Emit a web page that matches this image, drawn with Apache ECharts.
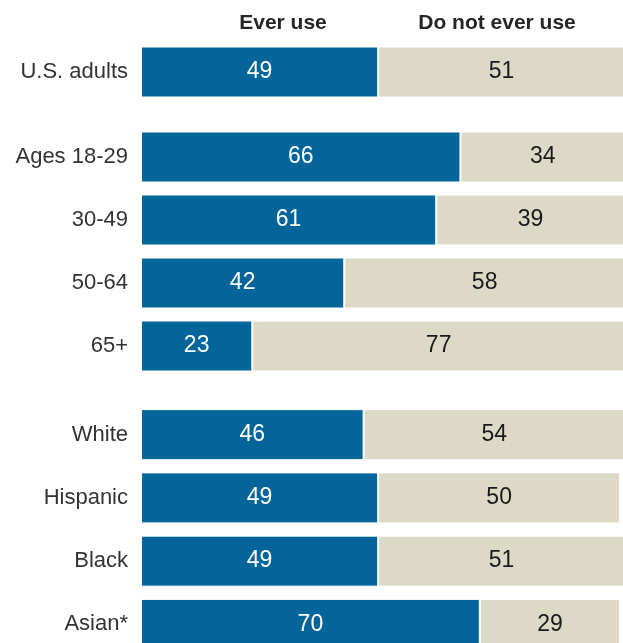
<!DOCTYPE html>
<html>
<head>
<meta charset="utf-8">
<script src="https://cdn.jsdelivr.net/npm/echarts@6/dist/echarts.min.js"></script>
<style>
html,body{margin:0;padding:0;background:#fff;}
#chart{width:623px;height:643px;}
</style>
</head>
<body>
<div id="chart"></div>
<script>
// ---- data ----
const headers = ['Ever use', 'Do not ever use'];
const categoriesTotal = ['U.S. adults'];
const categoriesAge = ['Ages 18-29', '30-49', '50-64', '65+'];
const categoriesRace = ['White', 'Hispanic', 'Black', 'Asian*'];
const everTotal = [49];
const notTotal = [51];
const everAge = [66, 61, 42, 23];
const notAge = [34, 39, 58, 77];
const everRace = [46, 49, 49, 70];
const notRace = [54, 50, 51, 29];

// ---- styling ----
const BLUE = '#036599';
const TAN = '#dcd9c6';
const SANS = '"Liberation Sans", Arial, Helvetica, sans-serif';

const groups = [
  { cats: categoriesTotal, ever: everTotal, not: notTotal, top: 41, height: 62 },
  { cats: categoriesAge, ever: everAge, not: notAge, top: 125.5, height: 252 },
  { cats: categoriesRace, ever: everRace, not: notRace, top: 403, height: 253 }
];

const grid = [], xAxis = [], yAxis = [], series = [];
groups.forEach((g, i) => {
  grid.push({ left: 141, width: 484, top: g.top, height: g.height, containLabel: false, outerBoundsMode: 'none' });
  xAxis.push({ type: 'value', gridIndex: i, min: 0, max: 100, show: false });
  yAxis.push({
    type: 'category', gridIndex: i, data: g.cats, inverse: true,
    axisLine: { show: false }, axisTick: { show: false }, splitLine: { show: false },
    axisLabel: { margin: 13, fontSize: 22, fontFamily: SANS, color: '#333' }
  });
  const common = {
    type: 'bar', stack: 'g' + i, xAxisIndex: i, yAxisIndex: i, barWidth: 51,
    animation: false
  };
  series.push(Object.assign({}, common, {
    name: headers[0], data: g.ever,
    itemStyle: { color: BLUE, borderColor: '#fff', borderWidth: 1 },
    label: { show: true, position: 'inside', fontSize: 23, fontFamily: SANS, color: '#fff' }
  }));
  series.push(Object.assign({}, common, {
    name: headers[1], data: g.not,
    itemStyle: { color: TAN, borderColor: '#fff', borderWidth: 1 },
    label: { show: true, position: 'inside', fontSize: 23, fontFamily: SANS, color: '#1a1a1a' }
  }));
});

const chart = echarts.init(document.getElementById('chart'), null, { renderer: 'canvas' });
chart.setOption({
  backgroundColor: '#fff',
  animation: false,
  grid, xAxis, yAxis, series,
  graphic: [
    { type: 'text', x: 283, y: 23, style: { text: headers[0], font: 'bold 21px ' + SANS, fill: '#262626', align: 'center', verticalAlign: 'middle' } },
    { type: 'text', x: 497, y: 23, style: { text: headers[1], font: 'bold 21px ' + SANS, fill: '#262626', align: 'center', verticalAlign: 'middle' } }
  ]
});
</script>
</body>
</html>
